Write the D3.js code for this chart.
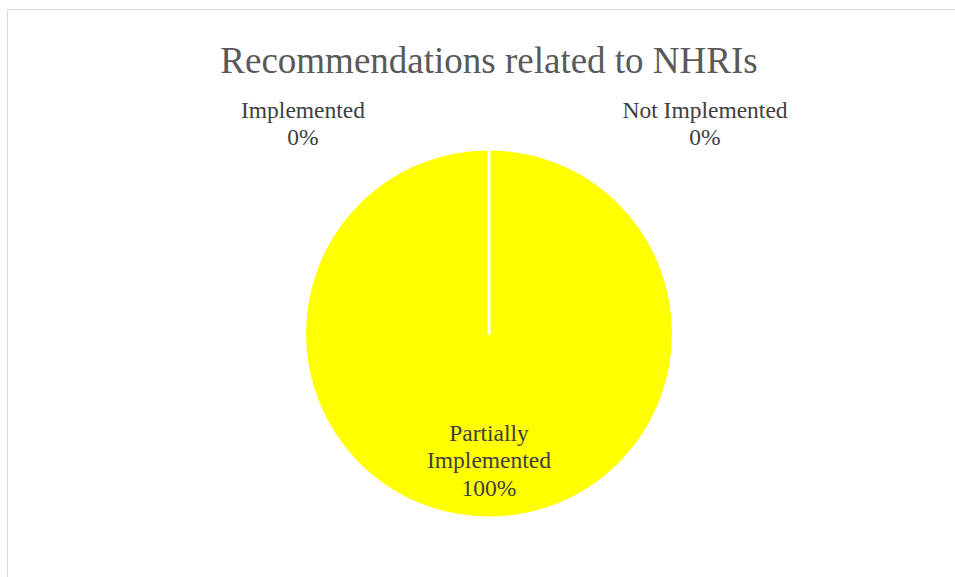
<!DOCTYPE html>
<meta charset="utf-8">
<style>
  body { margin: 0; background: #fff; }
</style>
<body>
<script src="https://d3js.org/d3.v7.min.js"></script>
<script>

var title = "Recommendations related to NHRIs";
var categories = ["Implemented", "Partially Implemented", "Not Implemented"];
var values = [0, 100, 0];
var colors = ["#4472c4", "#ffff00", "#a5a5a5"];

var width = 955, height = 577;
var cx = 489, cy = 333.5, radius = 184.5;
var serif = "'Liberation Serif', Tinos, 'Times New Roman', Times, serif";

var svg = d3.select("body").append("svg")
    .attr("width", width)
    .attr("height", height);

// chart border (no bottom edge visible)
svg.append("path")
    .attr("d", "M7.5,577 L7.5,9.5 L955,9.5")
    .attr("fill", "none")
    .attr("stroke", "#d9d9d9")
    .attr("stroke-width", 1);

svg.append("text")
    .attr("x", cx)
    .attr("y", 73)
    .attr("text-anchor", "middle")
    .attr("fill", "#595959")
    .attr("font-family", serif)
    .style("font-size", "37px")
    .text(title);

var data = categories.map(function (c, i) { return { name: c, value: values[i], color: colors[i] }; });
var total = d3.sum(values);

var pie = d3.pie().sort(null).value(function (d) { return d.value; });
var arc = d3.arc().innerRadius(0).outerRadius(radius);

var g = svg.append("g").attr("transform", "translate(" + cx + "," + cy + ")");

g.selectAll("path")
    .data(pie(data))
  .enter().append("path")
    .attr("d", arc)
    .attr("fill", function (d) { return d.data.color; })
    .attr("stroke", "#fff")
    .attr("stroke-width", 3)
    .attr("stroke-linejoin", "round");

// label placement: zero slices pushed out left/right of the top, big slice inside near bottom
var labelPos = [
    { dx: -186, dy: -216 },
    { dx: 0, dy: 107 },
    { dx: 216, dy: -216 }
];

data.forEach(function (d, i) {
    var pct = Math.round(d.value / total * 100) + "%";
    var lines = d.name === "Partially Implemented" ? ["Partially", "Implemented", pct] : [d.name, pct];
    var t = g.append("text")
        .attr("text-anchor", "middle")
        .attr("fill", "#404040")
        .attr("font-family", serif)
        .style("font-size", "23.5px")
        .attr("transform", "translate(" + labelPos[i].dx + "," + labelPos[i].dy + ")");
    lines.forEach(function (l, j) {
        t.append("tspan").attr("x", 0).attr("y", j * 27.5).text(l);
    });
});

</script>
</body>
